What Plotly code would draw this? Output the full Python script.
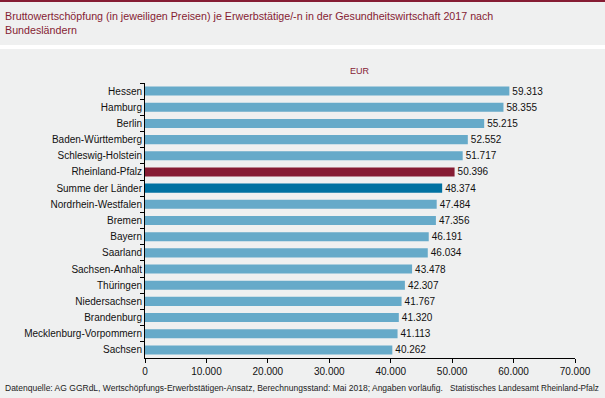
import plotly.graph_objects as go

categories = ["Hessen", "Hamburg", "Berlin", "Baden-Württemberg", "Schleswig-Holstein",
              "Rheinland-Pfalz", "Summe der Länder", "Nordrhein-Westfalen", "Bremen", "Bayern",
              "Saarland", "Sachsen-Anhalt", "Thüringen", "Niedersachsen", "Brandenburg",
              "Mecklenburg-Vorpommern", "Sachsen"]
values = [59313, 58355, 55215, 52552, 51717, 50396, 48374, 47484, 47356, 46191,
          46034, 43478, 42307, 41767, 41320, 41113, 40262]
x_ticks = [0, 10000, 20000, 30000, 40000, 50000, 60000, 70000]

BG = "#eff0f0"
LIGHT = "#66aac9"
RED = "#861c33"
DARK = "#0071a1"

colors = [RED if c == "Rheinland-Pfalz" else DARK if c == "Summe der Länder" else LIGHT
          for c in categories]
labels = [f"{v:,}".replace(",", ".") for v in values]

W, H = 605, 398
ml, mr, mt, mb = 145, 30, 83, 40
ph = H - mt - mb
pw = W - ml - mr


def py(p):
    return (H - mb - p) / ph


def px(p):
    return (p - ml) / pw


fig = go.Figure(go.Bar(
    x=values, y=categories, orientation="h",
    marker=dict(color=colors, line=dict(width=0)),
    text=labels, textposition="outside", cliponaxis=False, constraintext="none",
    textfont=dict(size=10, color="#111111", family="Liberation Sans, Arial"),
    width=0.56,
))

fig.update_layout(
    width=W, height=H,
    margin=dict(l=ml, r=mr, t=mt, b=mb),
    paper_bgcolor=BG, plot_bgcolor=BG,
    separators=",.",
    showlegend=False,
    font=dict(family="Liberation Sans, Arial", size=10, color="#111111"),
    xaxis=dict(range=[0, 70000], tickvals=x_ticks, tickformat=",d",
               showgrid=False, zeroline=False,
               showline=True, linecolor="#000000", linewidth=1,
               ticks="outside", ticklen=4, tickcolor="#000000",
               tickfont=dict(size=10)),
    yaxis=dict(autorange=False, range=[len(categories) - 0.5, -0.5],
               type="category", categoryorder="array", categoryarray=categories,
               showgrid=False, zeroline=False,
               showline=True, linecolor="#000000", linewidth=1,
               ticks="outside", ticklen=4, tickcolor="#000000",
               tickson="boundaries", tickfont=dict(size=10)),
    shapes=[
        dict(type="rect", xref="paper", yref="paper", x0=px(0), x1=px(W),
             y0=py(2), y1=py(0), fillcolor=RED, line=dict(width=0), layer="below"),
        dict(type="rect", xref="paper", yref="paper", x0=px(0), x1=px(W),
             y0=py(49), y1=py(45), fillcolor="#ffffff", line=dict(width=0), layer="below"),
    ],
    annotations=[
        dict(text="Bruttowertschöpfung (in jeweiligen Preisen) je Erwerbstätige/-n in der Gesundheitswirtschaft 2017 nach<br>Bundesländern",
             xref="paper", yref="paper", x=px(3), y=py(8), xanchor="left", yanchor="top",
             align="left", showarrow=False,
             font=dict(size=10.7, color=RED, family="Liberation Sans, Arial")),
        dict(text="EUR", xref="paper", yref="paper", x=px(360), y=py(71),
             xanchor="center", yanchor="middle", showarrow=False,
             font=dict(size=9, color=RED)),
        dict(text="Datenquelle: AG GGRdL, Wertschöpfungs-Erwerbstätigen-Ansatz, Berechnungsstand: Mai 2018; Angaben vorläufig.",
             xref="paper", yref="paper", x=px(3), y=py(388), xanchor="left", yanchor="middle",
             showarrow=False, font=dict(size=8.5, color="#222222")),
        dict(text="Statistisches Landesamt Rheinland-Pfalz",
             xref="paper", yref="paper", x=px(601), y=py(388), xanchor="right", yanchor="middle",
             showarrow=False, font=dict(size=8.2, color="#222222")),
    ],
)

fig.write_html("out.html", config={"displayModeBar": False},
               post_script="document.body.style.margin='0';document.body.style.overflow='hidden';")
